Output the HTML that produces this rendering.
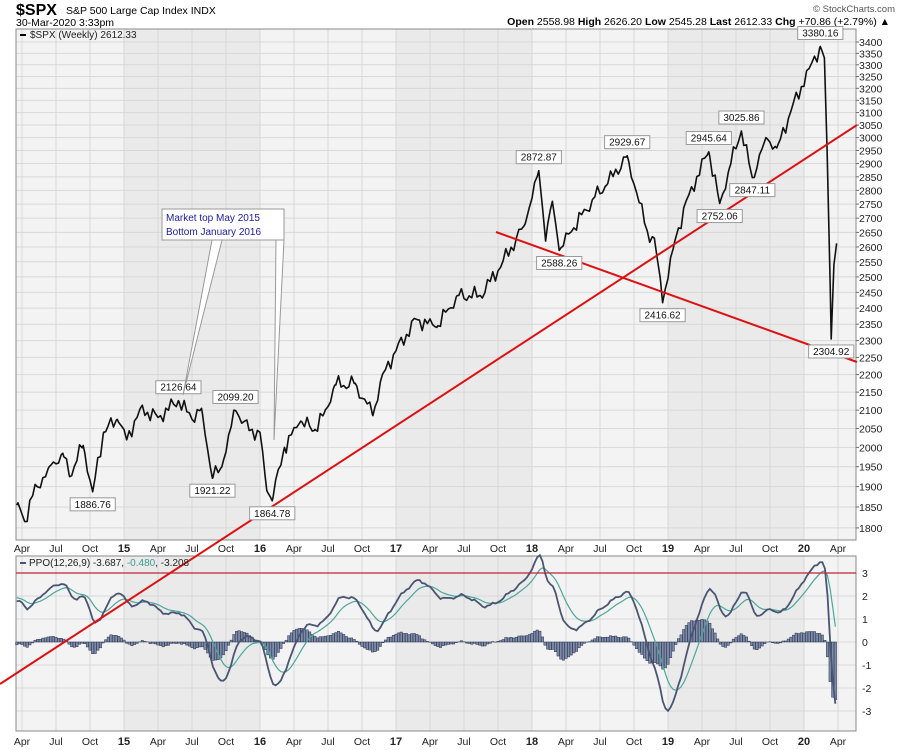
<!DOCTYPE html>
<html><head><meta charset="utf-8"><style>
body{margin:0;background:#fff;width:900px;height:750px;overflow:hidden}
svg{display:block;font-family:"Liberation Sans",Arial,sans-serif}
</style></head><body>
<svg id="s" width="900" height="750" xmlns="http://www.w3.org/2000/svg">
<text x="16" y="15" font-size="16" font-weight="bold" fill="#000">$SPX</text>
<text x="66" y="14" font-size="10.5" fill="#000">S&amp;P 500 Large Cap Index  INDX</text>
<text x="16" y="26" font-size="10.5" fill="#000">30-Mar-2020 3:33pm</text>
<text x="895" y="12" font-size="9.5" fill="#555" text-anchor="end">© StockCharts.com</text>
<text x="890" y="25" font-size="10.5" fill="#000" text-anchor="end"><tspan font-weight="bold">Open</tspan> 2558.98 <tspan font-weight="bold">High</tspan> 2626.20 <tspan font-weight="bold">Low</tspan> 2545.28 <tspan font-weight="bold">Last</tspan> 2612.33 <tspan font-weight="bold">Chg</tspan> +70.86 (+2.79%) ▲</text>
<g id="g"></g>
</svg>
<script>
const S=document.getElementById('g');let h='';
const X=t=>22+(t-2014.25)*136;
const PY=v=>42+(Math.log(3400)-Math.log(v))*764;
const QY=v=>642-v*23;
const L=16,R=856,T1=29,B1=540,T2=556,B2=731;
h+=`<rect x="${L}" y="${T1}" width="${R-L}" height="${B1-T1}" fill="#f3f3f3"/>`;
h+=`<rect x="${L}" y="${T2}" width="${R-L}" height="${B2-T2}" fill="#f3f3f3"/>`;
for(const y of [2015,2017,2019]){const a=Math.max(L,X(y)),b=Math.min(R,X(y+1));
h+=`<rect x="${a}" y="${T1}" width="${b-a}" height="${B1-T1}" fill="#eaeaea"/><rect x="${a}" y="${T2}" width="${b-a}" height="${B2-T2}" fill="#eaeaea"/>`;}
for(let v=1800;v<=3400;v+=50){const y=PY(v);h+=`<line x1="${L}" x2="${R}" y1="${y}" y2="${y}" stroke="#d8d8d8" stroke-width="1"/><line x1="${R}" x2="${R+3}" y1="${y}" y2="${y}" stroke="#666"/><text x="${R+3}" y="${y+4}" font-size="10.5" fill="#222">${v}</text>`;}
for(let v=-3;v<=3;v++){const y=QY(v);h+=`<line x1="${L}" x2="${R}" y1="${y}" y2="${y}" stroke="#d8d8d8"/><text x="${R+6}" y="${y+4}" font-size="10.5" fill="#222">${v}</text>`;}
const mlab=['Apr','Jul','Oct'];
for(let y=2014;y<=2020;y++)for(let q=0;q<4;q++){const t=y+q/4;if(t<2014.25||t>2020.3)continue;const x=X(t);
const lab=q==0?String(y%100):mlab[q-1];const bold=q==0;
h+=`<line x1="${x}" x2="${x}" y1="${T1}" y2="${B1}" stroke="#d8d8d8"/><line x1="${x}" x2="${x}" y1="${T2}" y2="${B2}" stroke="#d8d8d8"/>`;
for(const yy of [552,745])h+=`<text x="${x}" y="${yy}" font-size="${bold?11:10.5}" ${bold?'font-weight="bold"':''} text-anchor="middle" fill="#222">${lab}</text>`;}
h+=`<rect x="${L}" y="${T1}" width="${R-L}" height="${B1-T1}" fill="none" stroke="#888"/><rect x="${L}" y="${T2}" width="${R-L}" height="${B2-T2}" fill="none" stroke="#888"/>`;
const W=[[2013.0,1460],[2013.4,1640],[2013.7,1690],[2014.0,1840],[2014.1,1780],[2014.22,1860],[2014.27,1815],[2014.33,1880],[2014.45,1950],[2014.55,1985],[2014.6,1925],[2014.7,2005],[2014.77,1887],[2014.85,2040],[2014.95,2075],[2015.02,2020],[2015.12,2105],[2015.25,2080],[2015.4,2126],[2015.5,2075],[2015.57,2105],[2015.65,1921],[2015.72,1950],[2015.82,2099],[2015.92,2045],[2016.0,2040],[2016.05,1890],[2016.09,1865],[2016.18,2000],[2016.3,2070],[2016.4,2045],[2016.47,2090],[2016.55,2170],[2016.7,2175],[2016.83,2085],[2016.9,2200],[2017.0,2270],[2017.15,2365],[2017.3,2340],[2017.45,2440],[2017.62,2440],[2017.75,2520],[2017.95,2680],[2018.05,2873],[2018.1,2620],[2018.15,2760],[2018.2,2588],[2018.3,2660],[2018.45,2770],[2018.55,2820],[2018.7,2930],[2018.78,2770],[2018.85,2650],[2018.9,2630],[2018.96,2417],[2019.05,2620],[2019.15,2780],[2019.3,2945],[2019.38,2752],[2019.45,2880],[2019.54,3026],[2019.62,2847],[2019.72,3000],[2019.8,2960],[2019.9,3100],[2020.05,3300],[2020.12,3380],[2020.15,3330],[2020.17,2950],[2020.2,2305],[2020.22,2540],[2020.24,2612]];
function interp(t){for(let i=0;i<W.length-1;i++)if(t>=W[i][0]&&t<=W[i+1][0]){const f=(t-W[i][0])/(W[i+1][0]-W[i][0]);return W[i][1]+f*(W[i+1][1]-W[i][1]);}return W[W.length-1][1];}
const wk=[];for(let t=2013.0;t<2020.245;t+=1/52){let v=interp(t);if(!W.some(w=>Math.abs(w[0]-t)<0.012))v*=1+0.012*Math.sin(t*97.3)*Math.cos(t*41.1);wk.push([t,v]);}
const pts=wk.concat(W.map(w=>[w[0],w[1]])).sort((a,b)=>a[0]-b[0]);
let e12=wk[0][1],e26=wk[0][1],sig=0;const pp=[];
for(const [t,v] of wk){e12+=(v-e12)*2/13;e26+=(v-e26)*2/27;const p=(e12-e26)/e26*100;sig+=(p-sig)*0.2;pp.push([t,p,sig]);}
for(const [t,p,s] of pp){if(t<2014.2)continue;const x=X(t),y0=QY(0),y1=QY((p-s)*0.75);
h+=`<rect x="${x-1.2}" y="${Math.min(y0,y1)}" width="2.4" height="${Math.abs(y1-y0)}" fill="#7d8aa8" stroke="#2a3550" stroke-width="0.5"/>`;}
const clipX=p=>p.filter(a=>X(a[0])>=L);
h+=`<polyline fill="none" stroke="#4aa79a" stroke-width="1.2" points="${clipX(pp).map(a=>X(a[0])+','+QY(a[2])).join(' ')}"/>`;
h+=`<polyline fill="none" stroke="#4a5573" stroke-width="1.8" points="${clipX(pp).map(a=>X(a[0])+','+QY(a[1])).join(' ')}"/>`;
h+=`<line x1="${L}" x2="${R}" y1="573" y2="573" stroke="#c0243a" stroke-width="1.2"/>`;
h+=`<polyline fill="none" stroke="#111" stroke-width="1.6" stroke-linejoin="round" points="${clipX(pts).map(a=>X(a[0]).toFixed(1)+','+PY(a[1]).toFixed(1)).join(' ')}"/>`;
h+=`<line x1="0" y1="684" x2="857" y2="125" stroke="#d11" stroke-width="2"/>`;
h+=`<line x1="496" y1="232" x2="857" y2="362" stroke="#d11" stroke-width="2"/>`;
function lab(txt,t,v,up){const x=X(t),y=PY(v);const w=txt.length*5.6+6;const by=up?y-20:y+6;
h+=`<rect x="${x-w/2}" y="${by}" width="${w}" height="13" fill="#fff" stroke="#999"/><text x="${x}" y="${by+10}" font-size="10" text-anchor="middle" fill="#111">${txt}</text>`;}
lab('1886.76',2014.77,1887,0);lab('2126.64',2015.4,2126,1);lab('1921.22',2015.65,1921,0);lab('2099.20',2015.82,2099,1);
lab('1864.78',2016.09,1865,0);lab('2872.87',2018.05,2873,1);lab('2588.26',2018.2,2588,0);lab('2929.67',2018.7,2930,1);
lab('2416.62',2018.96,2417,0);lab('2945.64',2019.3,2946,1);lab('2752.06',2019.38,2752,0);lab('3025.86',2019.54,3026,1);
lab('2847.11',2019.62,2847,0);lab('3380.16',2020.12,3380,1);lab('2304.92',2020.2,2305,0);
h+=`<polygon points="212,240 222,240 183,395" fill="#fff" stroke="#999"/><polygon points="276,240 284,240 274,440" fill="#fff" stroke="#999"/>`;
h+=`<rect x="162" y="209" width="122" height="31" fill="#fff" stroke="#999"/><text x="166" y="221" font-size="10" fill="#1a1aa6">Market top May 2015</text><text x="166" y="235" font-size="10" fill="#1a1aa6">Bottom January 2016</text>`;
h+=`<rect x="20" y="34" width="6" height="2" fill="#000"/><text x="30" y="38" font-size="10" fill="#222">$SPX (Weekly) 2612.33</text>`;
h+=`<rect x="20" y="562" width="6" height="2" fill="#4a5573"/><text x="29" y="566" font-size="10" fill="#222">PPO(12,26,9) -3.687, <tspan fill="#3a9a8c">-0.480</tspan>, -3.208</text>`;
S.innerHTML=h;
</script>
</body></html>
